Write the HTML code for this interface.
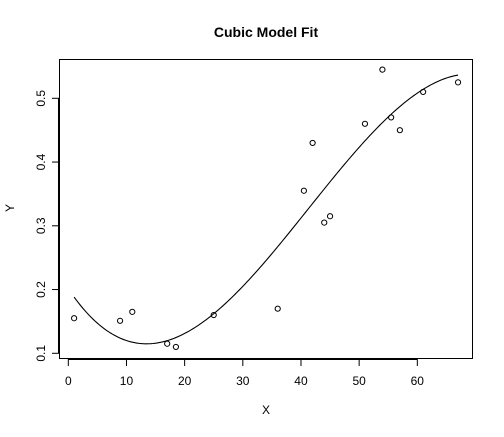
<!DOCTYPE html>
<html><head><meta charset="utf-8"><style>
body{margin:0;background:#fff}
svg text{font-family:"Liberation Sans",Arial,sans-serif;fill:#000}
</style></head><body>
<svg id="c" width="504" height="432" viewBox="0 0 504 432" xmlns="http://www.w3.org/2000/svg">
<rect width="504" height="432" fill="#fff"/>
<text x="266" y="37" text-anchor="middle" font-size="14" font-weight="bold">Cubic Model Fit</text>
<text x="266" y="414" text-anchor="middle" font-size="12">X</text>
<text x="0" y="0" transform="translate(14,208) rotate(-90)" text-anchor="middle" font-size="12">Y</text>
<rect x="59.5" y="59.5" width="413" height="299" fill="none" stroke="#000"/>
<g id="axes"></g>
<g id="marks"></g>
</svg>
<script>
const xs=[1,8.9,11,17,18.5,25,36,40.5,42,44,45,51,54,55.5,57,61,67];
const ys=[0.155,0.151,0.165,0.115,0.110,0.160,0.17,0.355,0.43,0.305,0.315,0.46,0.545,0.47,0.45,0.51,0.525];
const xTicks=[0,10,20,30,40,50,60];
const yTicks=[0.1,0.2,0.3,0.4,0.5];
const NS='http://www.w3.org/2000/svg';
const sx=v=>68.3+v*5.817;
const sy=v=>353.3-(v-0.1)*637.5;
function mk(t,a,p){const e=document.createElementNS(NS,t);for(const k in a)e.setAttribute(k,a[k]);p.appendChild(e);return e;}
const ax=document.getElementById('axes'),mg=document.getElementById('marks');
xTicks.forEach(v=>{
 const l=mk('line',{x1:sx(v),x2:sx(v),y1:359,y2:366,stroke:'#000'},ax);
 
 
 const t=mk('text',{x:sx(v),y:385,'text-anchor':'middle','font-size':12},ax);t.textContent=v;
 
 
});
mk('line',{x1:sx(0),x2:sx(60),y1:359.5,y2:359.5,stroke:'#000'},ax);
yTicks.forEach(v=>{
 const l=mk('line',{x1:52,x2:59,y1:sy(v),y2:sy(v),stroke:'#000'},ax);
 
 
 const t=mk('text',{x:0,y:0,transform:`translate(45,${sy(v)}) rotate(-90)`,'text-anchor':'middle','font-size':12},ax);t.textContent=v;
 
 
});
mk('line',{x1:58.5,x2:58.5,y1:sy(0.1),y2:sy(0.5),stroke:'#000'},ax);
// cubic least squares
const A=[[0,0,0,0],[0,0,0,0],[0,0,0,0],[0,0,0,0]],b=[0,0,0,0];
xs.forEach((x,i)=>{const p=[1,x,x*x,x*x*x];for(let r=0;r<4;r++){b[r]+=p[r]*ys[i];for(let c=0;c<4;c++)A[r][c]+=p[r]*p[c];}});
for(let i=0;i<4;i++){for(let j=i+1;j<4;j++){const f=A[j][i]/A[i][i];for(let k=i;k<4;k++)A[j][k]-=f*A[i][k];b[j]-=f*b[i];}}
const co=[0,0,0,0];for(let i=3;i>=0;i--){let s=b[i];for(let k=i+1;k<4;k++)s-=A[i][k]*co[k];co[i]=s/A[i][i];}
const mn=Math.min(...xs),mx=Math.max(...xs);let d='';
for(let i=0;i<=200;i++){const x=mn+(mx-mn)*i/200;const y=co[0]+co[1]*x+co[2]*x*x+co[3]*x*x*x;d+=(i?'L':'M')+sx(x).toFixed(2)+','+sy(y).toFixed(2);}
const path=mk('path',{d:d,fill:'none',stroke:'#000','stroke-width':1.1},mg);


xs.forEach((x,i)=>{
 const c=mk('circle',{cx:sx(x),cy:sy(ys[i]),r:2.6,fill:'none',stroke:'#000','stroke-width':1},mg);
 
 
});
</script>
</body></html>
